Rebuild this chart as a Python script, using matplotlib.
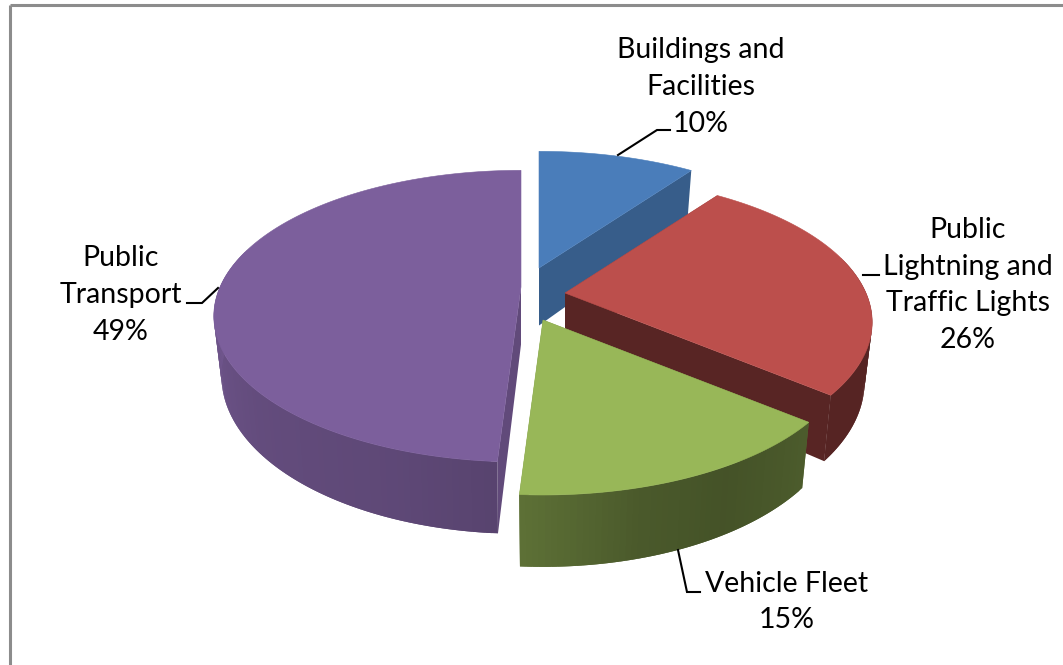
import numpy as np
import matplotlib
matplotlib.use('Agg')
import matplotlib.pyplot as plt
from matplotlib.colors import to_rgb

# Data
labels = ['Buildings and\nFacilities', 'Public\nLightning and\nTraffic Lights', 'Vehicle Fleet', 'Public\nTransport']
shares = [10, 26, 15, 49]
colors = ['#4a7dba', '#bc4f4c', '#98b758', '#7c5f9c']

# Layout in picture pixels
centers = [(539, 268), (565, 293), (543, 320), (521, 287)]
a, b, persp, depth = 301, 140, 0.2, 57.5
shrink = 0.025   # walls narrow a little on the way down
# how dark the two cut faces are, and the outer wall along the angle (deg, factor)
cut_shade = [0.74, 0.47, 0.60, 0.78]
wall_shade = [([0, 36], [0.7, 0.7]),
              ([36, 90, 130], [0.42, 0.46, 0.46]),
              ([130, 150, 165, 184], [0.50, 0.45, 0.49, 0.62]),
              ([184, 200, 230, 255, 285, 360], [0.71, 0.76, 0.80, 0.87, 0.95, 0.95])]
label_pos = [(701, 87), (968, 285), (787, 602), (121, 295)]
leaders = [[(618, 155), (657, 130), (670, 130)],
           [(863, 275), (879, 275)],
           [(678, 550), (687, 592), (700, 592)],
           [(218, 288), (202, 303), (187, 303)]]


def project(center, theta, r=1.0, drop=0.0):
    # plan position on the disc, the far side comes out smaller
    u = r*np.sin(theta)
    v = r*np.cos(theta)
    k = 1/(1 + persp*v)
    s = 1 - shrink*drop/depth
    return center[0] + a*u*k*s, center[1] - b*v*k + drop*k


def shade(col, f):
    return tuple(c*f for c in to_rgb(col))


fig = plt.figure(figsize=(10.63, 6.65), dpi=100)
ax = fig.add_axes([0, 0, 1, 1])
ax.set_xlim(0, 1063)
ax.set_ylim(665, 0)
ax.axis('off')

# frame, only top and left show up
ax.plot([9.5, 9.5], [665, 4.5], color='#8c8c8c', lw=2.2, solid_capstyle='butt')
ax.plot([9.5, 1063], [4.5, 4.5], color='#8c8c8c', lw=2.2, solid_capstyle='butt')

edges = np.cumsum([0] + shares)/sum(shares)*2*np.pi

for i in [3, 0, 1, 2]:
    t0, t1 = edges[i], edges[i + 1]
    c = centers[i]
    col = colors[i]
    xc, yc = project(c, 0, r=0)
    # cut faces first
    for t in (t0, t1):
        x1, y1 = project(c, t)
        x2, y2 = project(c, t, drop=depth)
        ax.fill([xc, x1, x2, xc], [yc, y1, y2, yc + depth], color=shade(col, cut_shade[i]), lw=0, zorder=i + 1)
    # outer wall in thin strips, each one runs under the next so no seams show
    n = int(np.degrees(t1 - t0)) + 1
    tt = np.linspace(t0, t1, n + 1)
    for j in range(n):
        if np.cos(tt[j]) > 0.25 and np.cos(tt[j + 1]) > 0.25:
            continue
        mid = np.degrees((tt[j] + tt[j + 1])/2)
        f = np.interp(mid, wall_shade[i][0], wall_shade[i][1])
        k = min(j + 2, n)
        x1, y1 = project(c, tt[j])
        x2, y2 = project(c, tt[k])
        x3, y3 = project(c, tt[k], drop=depth)
        x4, y4 = project(c, tt[j], drop=depth)
        ax.fill([x1, x2, x3, x4], [y1, y2, y3, y4], color=shade(col, f), lw=0, zorder=i + 1)
    # top face
    tt = np.linspace(t0, t1, 200)
    xs, ys = project(c, tt)
    ax.fill(np.r_[xc, xs], np.r_[yc, ys], color=col, lw=0.4, zorder=i + 1.5)

for i in range(len(labels)):
    ax.text(label_pos[i][0], label_pos[i][1], f'{labels[i]}\n{shares[i]}%', ha='center', va='center',
            fontsize=20.5, family='Lato', linespacing=1.52, color='black', zorder=10)
    line = np.array(leaders[i])
    ax.plot(line[:, 0], line[:, 1], color='black', lw=1.5, zorder=9, solid_joinstyle='miter')

fig.savefig('out.png', dpi=100)
